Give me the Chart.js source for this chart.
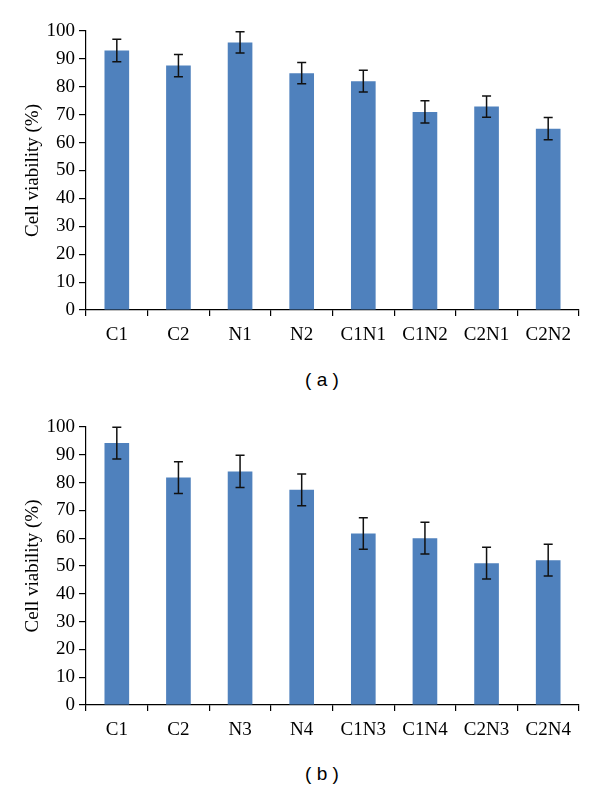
<!DOCTYPE html>
<html>
<head>
<meta charset="utf-8">
<script src="https://cdn.jsdelivr.net/npm/chart.js@4"></script>
<style>
  html, body { margin: 0; padding: 0; background: #fff; }
  #wrap { position: relative; width: 600px; height: 791px; overflow: hidden; }
  .cv { position: absolute; left: 0; }
  .cap { position: absolute; width: 100px; text-align: center; font-family: "Liberation Sans", Arial, sans-serif; font-size: 19px; color: #000; line-height: 20px; }
</style>
</head>
<body>
<div id="wrap">
  <div class="cv" style="top:0px;width:600px;height:345px;"><canvas id="chartA" width="600" height="345"></canvas></div>
  <div class="cap" style="left:272px;top:370px;">( a )</div>
  <div class="cv" style="top:396px;width:600px;height:344px;"><canvas id="chartB" width="600" height="344"></canvas></div>
  <div class="cap" style="left:272px;top:764px;">( b )</div>
</div>
<script>
const labelsA = ['C1', 'C2', 'N1', 'N2', 'C1N1', 'C1N2', 'C2N1', 'C2N2'];
const valuesA = [93, 87.6, 95.9, 84.9, 82, 71, 72.9, 65];
const errorsA = [4, 4, 3.8, 3.8, 3.9, 4, 3.8, 4];

const labelsB = ['C1', 'C2', 'N3', 'N4', 'C1N3', 'C1N4', 'C2N3', 'C2N4'];
const valuesB = [94.2, 81.8, 84, 77.4, 61.7, 60, 51, 52.1];
const errorsB = [5.7, 5.7, 5.8, 5.7, 5.7, 5.7, 5.7, 5.7];

const yMin = 0, yMax = 100, yStep = 10;
const yTitle = 'Cell viability (%)';

const errorBarPlugin = {
  id: 'errorBars',
  afterDatasetsDraw(chart, args, opts) {
    const ctx = chart.ctx;
    const yScale = chart.scales.y;
    chart.data.datasets.forEach((ds, di) => {
      const meta = chart.getDatasetMeta(di);
      const errs = ds.errors || [];
      meta.data.forEach((el, i) => {
        const v = ds.data[i], e = errs[i];
        if (e == null) return;
        const x = el.x;
        const yT = yScale.getPixelForValue(v + e);
        const yB = yScale.getPixelForValue(v - e);
        const hw = 4.5;
        ctx.save();
        ctx.strokeStyle = '#111';
        ctx.lineWidth = 1.5;
        ctx.beginPath();
        ctx.moveTo(x, yT); ctx.lineTo(x, yB);
        ctx.moveTo(x - hw, yT); ctx.lineTo(x + hw, yT);
        ctx.moveTo(x - hw, yB); ctx.lineTo(x + hw, yB);
        ctx.stroke();
        ctx.restore();
      });
    });
  }
};

function makeChart(id, labels, values, errors) {
  return new Chart(document.getElementById(id), {
    type: 'bar',
    data: {
      labels: labels,
      datasets: [{
        data: values,
        errors: errors,
        backgroundColor: '#4F81BD',
        borderWidth: 0,
        categoryPercentage: 1.0,
        barPercentage: 0.4
      }]
    },
    options: {
      responsive: false,
      animation: false,
      devicePixelRatio: 1,
      layout: { padding: { top: 31, right: 21, left: 0, bottom: 0 } },
      plugins: { legend: { display: false }, tooltip: { enabled: false } },
      scales: {
        x: {
          offset: true,
          grid: { offset: true, drawOnChartArea: false, tickLength: 6, color: '#000', lineWidth: 1.2 },
          border: { color: '#000', width: 1.2 },
          ticks: { color: '#000', padding: 8, font: { family: '"Liberation Serif", "Times New Roman", serif', size: 19 }, maxRotation: 0, autoSkip: false },
          afterFit(s) { s.height = 35; }
        },
        y: {
          min: yMin, max: yMax,
          grid: { drawOnChartArea: false, tickLength: 7, color: '#000', lineWidth: 1.2 },
          border: { color: '#000', width: 1.2 },
          ticks: { stepSize: yStep, color: '#000', padding: 4, font: { family: '"Liberation Serif", "Times New Roman", serif', size: 19 } },
          title: { display: true, text: yTitle, color: '#000', padding: { top: 22, bottom: 0 }, font: { family: '"Liberation Serif", "Times New Roman", serif', size: 19 } },
          afterFit(s) { s.width = 86; }
        }
      }
    },
    plugins: [errorBarPlugin]
  });
}

makeChart('chartA', labelsA, valuesA, errorsA);
makeChart('chartB', labelsB, valuesB, errorsB);
</script>
</body>
</html>
